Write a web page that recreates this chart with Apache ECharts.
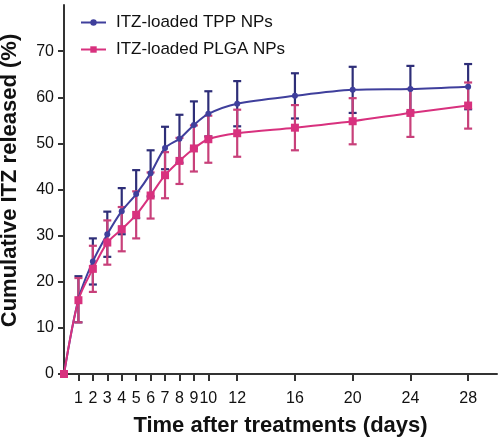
<!DOCTYPE html>
<html>
<head>
<meta charset="utf-8">
<script src="https://cdn.jsdelivr.net/npm/echarts@6/dist/echarts.min.js"></script>
<style>html,body{margin:0;padding:0;background:#fff}#c{width:500px;height:438px}</style>
</head>
<body>
<div id="c"></div>
<script>
const days = [0, 1, 2, 3, 4, 5, 6, 7, 8, 9, 10, 12, 16, 20, 24, 28];
const tppMean = [0, 16.2, 24.4, 30.3, 35.3, 39.0, 43.5, 49.0, 51.0, 54.0, 56.4, 58.6, 60.3, 61.6, 61.8, 62.3];
const tppSD   = [0, 5.0, 5.0, 4.9, 5.0, 5.2, 5.0, 4.6, 5.2, 5.1, 4.9, 4.9, 4.9, 5.0, 5.0, 4.9];
const plgaMean = [0, 16.0, 22.8, 28.5, 31.4, 34.5, 38.7, 43.1, 46.2, 48.9, 50.9, 52.2, 53.4, 54.8, 56.6, 58.2];
const plgaSD   = [0, 4.8, 5.0, 4.8, 4.8, 5.1, 5.0, 5.0, 5.0, 5.0, 5.1, 5.1, 4.9, 5.0, 5.2, 5.0];
const xTicks = [1, 2, 3, 4, 5, 6, 7, 8, 9, 10, 12, 16, 20, 24, 28];
const yTicks = [0, 10, 20, 30, 40, 50, 60, 70];
const seriesNames = ['ITZ-loaded TPP NPs', 'ITZ-loaded PLGA NPs'];

const blue = '#3f3f9c';
const blueBar = '#2e2e78';
const pink = '#d8317e';
const pinkBar = '#c8407a';
const font = '"Liberation Sans", Arial, sans-serif';

function errData(mean, sd) {
  return days.map((d, i) => [d, mean[i] - sd[i], mean[i] + sd[i]]).filter((r, i) => days[i] > 0);
}
function errSeries(mean, sd, color) {
  return {
    type: 'custom',
    data: errData(mean, sd),
    silent: true,
    z: 1,
    renderItem: function (params, api) {
      const x = api.value(0);
      const lo = api.coord([x, api.value(1)]);
      const hi = api.coord([x, api.value(2)]);
      const w = 4;
      const style = { stroke: color, lineWidth: 2.2 };
      return {
        type: 'group',
        children: [
          { type: 'line', shape: { x1: lo[0], y1: lo[1], x2: hi[0], y2: hi[1] }, style: style },
          { type: 'line', shape: { x1: lo[0] - w, y1: lo[1], x2: lo[0] + w, y2: lo[1] }, style: style },
          { type: 'line', shape: { x1: hi[0] - w, y1: hi[1], x2: hi[0] + w, y2: hi[1] }, style: style }
        ]
      };
    }
  };
}

const chart = echarts.init(document.getElementById('c'), null, { renderer: 'canvas' });
chart.setOption({
  animation: false,
  backgroundColor: '#fff',
  textStyle: { fontFamily: font },
  grid: { left: 64, right: 3, top: 5, bottom: 64, containLabel: false, outerBoundsMode: 'none' },
  legend: {
    orient: 'vertical',
    left: 75,
    top: 9,
    itemWidth: 25,
    itemHeight: 8,
    itemGap: 10,
    data: seriesNames,
    textStyle: { fontSize: 17, color: '#111', fontFamily: font, padding: [0, 0, 0, 5] }
  },
  xAxis: {
    type: 'value',
    min: 0,
    max: 30,
    interval: 1,
    name: 'Time after treatments (days)',
    nameLocation: 'middle',
    nameGap: 41,
    nameTextStyle: { fontSize: 22, fontWeight: 'bold', color: '#111', fontFamily: font },
    axisLine: { show: true, lineStyle: { color: '#333', width: 2 } },
    axisTick: { show: true, length: 7, lineStyle: { color: '#333', width: 2 }, customValues: xTicks },
    axisLabel: { fontSize: 16, color: '#111', margin: 17, customValues: xTicks, fontFamily: font },
    splitLine: { show: false }
  },
  yAxis: {
    type: 'value',
    min: 0,
    max: 80,
    interval: 10,
    name: 'Cumulative ITZ released (%)',
    nameLocation: 'middle',
    nameGap: 43,
    nameTextStyle: { fontSize: 22, fontWeight: 'bold', color: '#111', fontFamily: font, padding: [0, 0, 0, 18] },
    axisLine: { show: true, lineStyle: { color: '#333', width: 2 } },
    axisTick: { show: true, length: 6, lineStyle: { color: '#333', width: 2 }, customValues: yTicks },
    axisLabel: { fontSize: 16, color: '#111', margin: 10, customValues: yTicks, fontFamily: font },
    splitLine: { show: false }
  },
  series: [
    errSeries(tppMean, tppSD, blueBar),
    {
      name: seriesNames[0],
      type: 'line',
      smooth: 0.3,
      data: days.map((d, i) => [d, tppMean[i]]),
      symbol: 'circle',
      symbolSize: 6,
      z: 3,
      lineStyle: { color: blue, width: 2 },
      itemStyle: { color: blue }
    },
    errSeries(plgaMean, plgaSD, pinkBar),
    {
      name: seriesNames[1],
      type: 'line',
      smooth: 0.3,
      data: days.map((d, i) => [d, plgaMean[i]]),
      symbol: 'rect',
      symbolSize: 8,
      z: 4,
      lineStyle: { color: pink, width: 2 },
      itemStyle: { color: pink }
    }
  ]
});
</script>
</body>
</html>
